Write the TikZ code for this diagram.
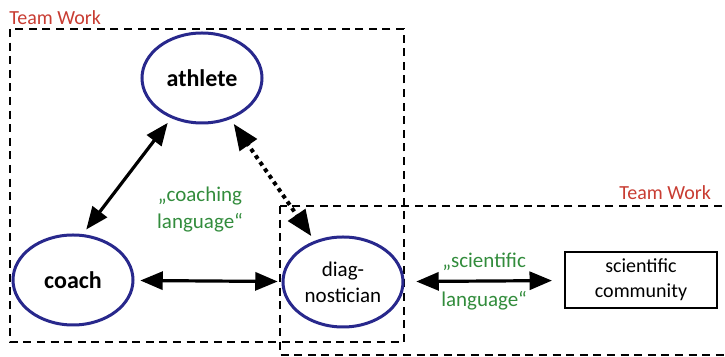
\documentclass[tikz,border=0pt]{standalone}
\usepackage{fontspec}
\setmainfont{Carlito}
\usepackage{tikz}
\usetikzlibrary{arrows, shapes, positioning}
\definecolor{teamred}{RGB}{200,60,50}
\definecolor{langgreen}{RGB}{50,140,60}
\definecolor{nodeblue}{RGB}{40,40,140}
\tikzset{
  person/.style={draw=nodeblue,ellipse,line width=1.5pt,minimum width=60pt,minimum height=45pt,inner sep=1pt,align=center},
  teambox/.style={draw,line width=1.2pt,dash pattern=on 4pt off 2.8pt},
  teamlabel/.style={text=teamred,font=\fontsize{10}{12}\selectfont,anchor=west,inner sep=0pt},
  lang/.style={text=langgreen,font=\fontsize{10.5}{13.5}\selectfont,align=center},
  link/.style={line width=1.6pt,<->,>=triangle 45}
}

\begin{document}
\begin{tikzpicture}[x=0.5pt,y=-0.5pt]
\useasboundingbox (0,0) rectangle (725,357);
\clip (0,0) rectangle (725,357);
% team boxes
\draw[teambox] (10,29) rectangle (404,342);
\draw[teambox] (280,206) rectangle (760,355);
\node[teamlabel] (team1) at (9,18) {Team Work};
\node[teamlabel] (team2) at (619,193) {Team Work};

\node[person,font=\fontsize{12}{14}\selectfont\bfseries] (athlete) at (202,78) {athlete};
\node[person,font=\fontsize{12}{14}\selectfont\bfseries] (coach) at (73,280) {coach};
\node[person,font=\fontsize{10.5}{13}\selectfont] (diag) at (343,282) {diag-\\nostician};
\node[draw,rectangle,line width=1.2pt,minimum width=76pt,minimum height=28pt,align=center,font=\fontsize{10}{12.5}\selectfont] (community) at (641,280) {scientific\\community};

\node[lang] (coaching) at (200,210) {„coaching\\language“};

\draw[link,shorten <=3pt,shorten >=3pt] (coach.78) -- (athlete);
\draw[link,line width=2pt,dash pattern=on 2pt off 2pt,shorten <=3pt,shorten >=3pt] (athlete) -- (diag);
\draw[link,shorten <=3pt,shorten >=2pt] (coach) -- (diag);
\draw[link,shorten <=6pt,shorten >=6pt] (diag) -- (community)
  node[lang,midway,above=1pt] (scilang1) {„scientific}
  node[lang,midway,below=1pt] (scilang2) {language“};
\end{tikzpicture}
\end{document}
